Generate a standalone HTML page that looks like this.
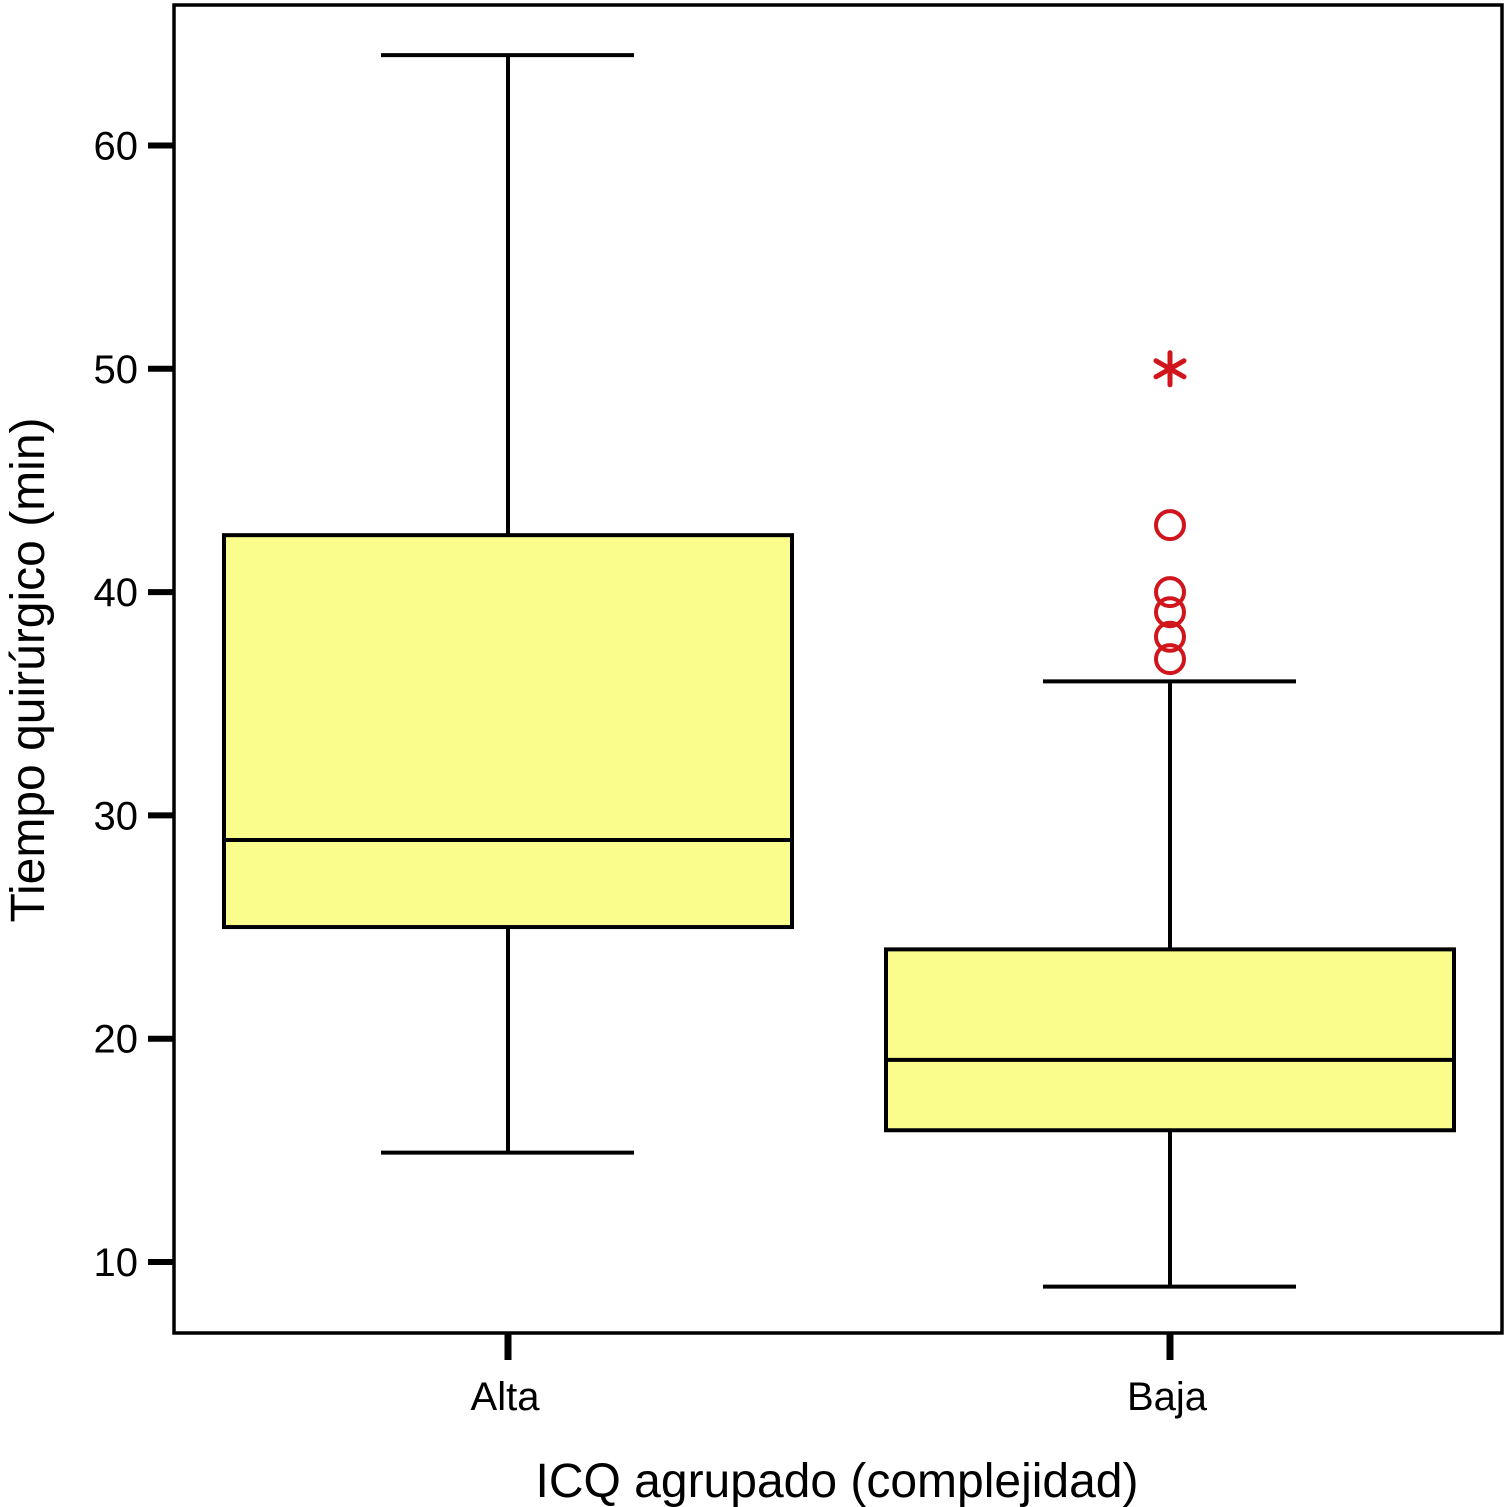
<!DOCTYPE html>
<html><head><meta charset="utf-8"><style>body{margin:0;background:#fff}svg{display:block}text{font-family:"Liberation Sans",sans-serif}</style></head>
<body>
<svg id="chart" width="1508" height="1507" viewBox="0 0 1508 1507" xmlns="http://www.w3.org/2000/svg">
<rect x="174" y="5" width="1328" height="1328" fill="#fff" stroke="#000" stroke-width="3.5"/>
<text transform="translate(44,670) rotate(-90)" text-anchor="middle" font-size="48" fill="#000">Tiempo quirúrgico (min)</text>
<text x="837" y="1497" text-anchor="middle" font-size="48" fill="#000">ICQ agrupado (complejidad)</text>
<g id="g"></g>
</svg>
<script>
const categories=["Alta","Baja"];
const whiskerLow=[14.9,8.9];
const q1=[25,15.9];
const medians=[28.9,19.05];
const q3=[42.55,24];
const whiskerHigh=[64.05,36];
const outlierCircles=[[],[43,40,39.1,38,37]];
const outlierStars=[[],[50]];
const yTicks=[10,20,30,40,50,60];
const NS="http://www.w3.org/2000/svg";
const g=document.getElementById('g');
function y(v){return 1262-(v-10)*22.33;}
const xc=[508,1170];
function mk(t,a){const e=document.createElementNS(NS,t);for(const k in a)e.setAttribute(k,a[k]);g.appendChild(e);return e;}
yTicks.forEach(v=>{
 const l=mk('line',{x1:148,x2:174,y1:y(v),y2:y(v),stroke:'#000','stroke-width':6});
 
 
 const t=mk('text',{x:138,y:y(v)+14,'text-anchor':'end','font-size':40,fill:'#000'});t.textContent=v;
 
 
});
categories.forEach((c,i)=>{
 const x=xc[i];
 const tk=mk('line',{x1:x,x2:x,y1:1333,y2:1360,stroke:'#000','stroke-width':7});
 
 
 const t=mk('text',{x:x-3,y:1410,'text-anchor':'middle','font-size':40,fill:'#000'});t.textContent=c;
 
 
 const s='#000',w=4;
 const wh=mk('line',{x1:x,x2:x,y1:y(whiskerHigh[i]),y2:y(q3[i]),stroke:s,'stroke-width':w});
 
 
 const wl=mk('line',{x1:x,x2:x,y1:y(q1[i]),y2:y(whiskerLow[i]),stroke:s,'stroke-width':w});
 
 
 const ch=mk('line',{x1:x-127,x2:x+126,y1:y(whiskerHigh[i]),y2:y(whiskerHigh[i]),stroke:s,'stroke-width':w});
 
 
 const cl=mk('line',{x1:x-127,x2:x+126,y1:y(whiskerLow[i]),y2:y(whiskerLow[i]),stroke:s,'stroke-width':w});
 
 
 const b=mk('rect',{x:x-284,y:y(q3[i]),width:568,height:y(q1[i])-y(q3[i]),fill:'#fafd8c',stroke:s,'stroke-width':w});
 
 
 const m=mk('line',{x1:x-284,x2:x+284,y1:y(medians[i]),y2:y(medians[i]),stroke:s,'stroke-width':w});
 
 
 outlierCircles[i].forEach(v=>{
  const o=mk('circle',{cx:x,cy:y(v),r:14,fill:'none',stroke:'#d0161c','stroke-width':4});
  
  
 });
 outlierStars[i].forEach(v=>{
  const cy=y(v);
  const d=`M${x} ${cy-16}L${x} ${cy+16}M${x-14} ${cy-8}L${x+14} ${cy+8}M${x-14} ${cy+8}L${x+14} ${cy-8}`;
  const o=mk('path',{d:d,stroke:'#d0161c','stroke-width':5,fill:'none','stroke-linecap':'round'});
  
  
 });
});
</script>
</body></html>
